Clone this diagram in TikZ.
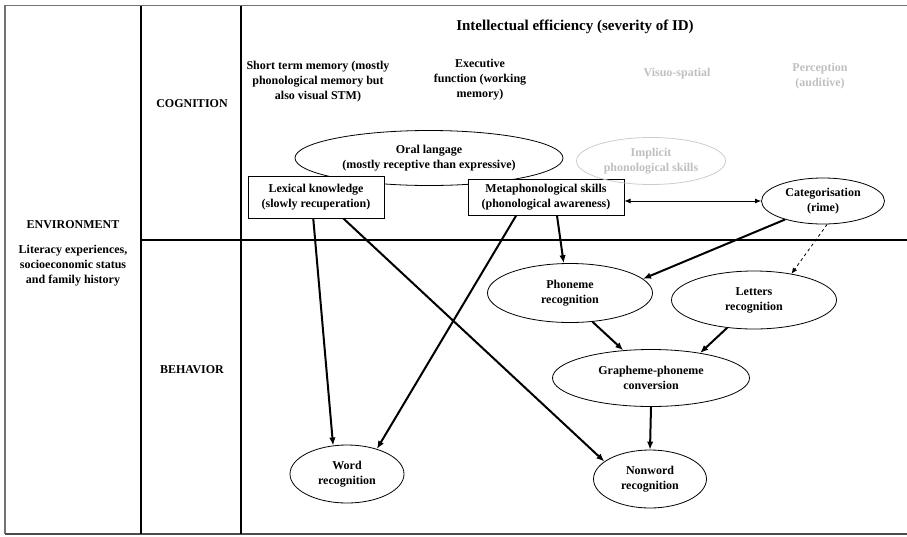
\documentclass[tikz,border=0pt]{standalone}
\usepackage{fontspec}
\setmainfont{Liberation Serif}
\usetikzlibrary{shapes.geometric,arrows.meta,calc}
\begin{document}
\begin{tikzpicture}[x=1pt,y=-1pt,
  lbl/.style={font=\bfseries\fontsize{12}{15}\selectfont,align=center,inner sep=0pt},
  glbl/.style={lbl,text=black!25},
  oval/.style={ellipse,draw,line width=0.8pt,inner sep=0pt,font=\bfseries\fontsize{12}{15}\selectfont,align=center},
  goval/.style={oval,draw=black!20,text=black!25},
  rbox/.style={draw,line width=1pt,inner sep=0pt,font=\bfseries\fontsize{12}{15}\selectfont,align=center},
  arr/.style={line width=2pt,-{Latex[length=8pt,width=6.5pt]}},
  thin/.style={line width=0.8pt},
  frame/.style={line width=1.8pt}
]
\useasboundingbox (0,0) rectangle (907,536);
% frame
\draw[frame,black!55] (907,5.5) -- (5,5.5) -- (5,534);
\draw[frame,black!70] (5,534) -- (907,534);
\draw[frame] (141,5.5) -- (141,534);
\draw[frame] (241,5.5) -- (241,534);
\draw[frame] (141,240) -- (907,240);

% headings
\node[lbl,font=\bfseries\fontsize{15}{18}\selectfont] (title) at (575,27) {Intellectual efficiency (severity of ID)};
\node[lbl] (stm) at (318,82) {Short term memory (mostly\\phonological memory but\\also visual STM)};
\node[lbl] (exec) at (480,80) {Executive\\function (working\\memory)};
\node[glbl] (visuo) at (677,74) {Visuo-spatial};
\node[glbl] (percep) at (820,76) {Perception\\(auditive)};
\node[lbl] (cog) at (192,104) {COGNITION};
\node[lbl] (beh) at (192,370) {BEHAVIOR};
\node[lbl] (env) at (73,225) {ENVIRONMENT};
\node[lbl] (lit) at (73,266) {Literacy experiences,\\socioeconomic status\\and family history};

% nodes
\node[oval,minimum width=268pt,minimum height=55pt] (oral) at (429,158) {Oral langage\\(mostly receptive than expressive)};
\node[rbox,minimum width=136pt,minimum height=42pt,fill=white] (lex) at (316,197) {Lexical knowledge\\(slowly recuperation)};
\node[rbox,minimum width=156pt,minimum height=36pt,fill=white] (meta) at (546,197) {Metaphonological skills\\(phonological awareness)};
\node[goval,minimum width=149pt,minimum height=47pt] (impl) at (651,161) {Implicit\\phonological skills};
\node[oval,minimum width=123pt,minimum height=46pt] (cat) at (823,201) {Categorisation\\(rime)};
\node[oval,minimum width=165pt,minimum height=59pt] (phon) at (570,293) {Phoneme\\recognition};
\node[oval,minimum width=165pt,minimum height=58pt] (lett) at (754,300) {Letters\\recognition};
\node[oval,minimum width=197pt,minimum height=57pt] (graph) at (651,378) {Grapheme-phoneme\\conversion};
\node[oval,minimum width=114pt,minimum height=58pt] (word) at (347,474) {Word\\recognition};
\node[oval,minimum width=113pt,minimum height=58pt] (nonw) at (650,479) {Nonword\\recognition};

% connectors
\draw[arr] ($(lex.south west)!0.48!(lex.south east)$) -- (word.116);
\draw[arr] ($(lex.south west)!0.70!(lex.south east)$) -- (nonw.159);
\draw[arr] ($(meta.south west)!0.31!(meta.south east)$) -- (word.40);
\draw[arr] ($(meta.south west)!0.57!(meta.south east)$) -- (phon.102);
\draw[arr] (cat.206) -- (phon.11);
\draw[thin,dashed,-{Latex[length=6pt,width=5pt]}] (cat.280) -- (lett.35);
\draw[arr] (phon.308) -- (graph.135);
\draw[arr] (lett.226) -- (graph.27);
\draw[arr] (graph.south) -- (nonw.north);
\draw[thin,{Latex[length=6pt,width=5pt]}-{Latex[length=6pt,width=5pt]}] (meta.east |- cat.west) -- (cat.west);
\end{tikzpicture}
\end{document}
